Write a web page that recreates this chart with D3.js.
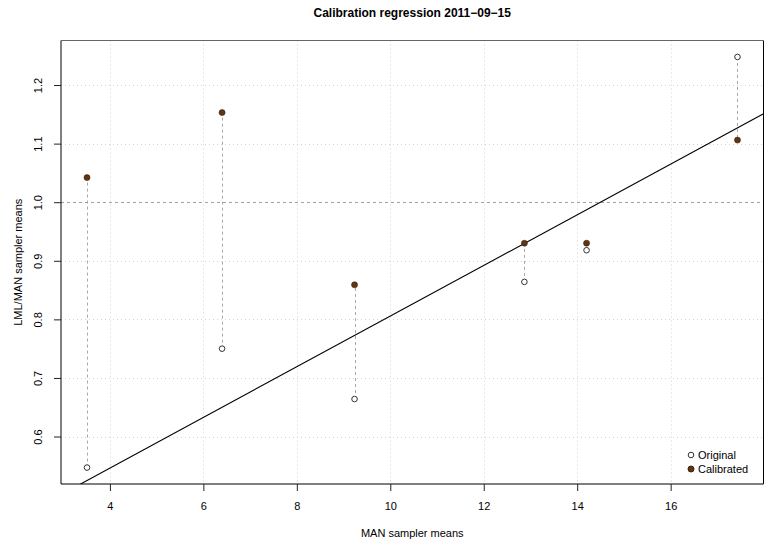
<!DOCTYPE html>
<html>
<head>
<script src="https://d3js.org/d3.v7.min.js"></script>
<style>
  body { margin: 0; background: #fff; }
  svg text { font-family: "Liberation Sans", Arial, sans-serif; fill: #000; }
</style>
</head>
<body>
<script>
// data
let manMeans   = [3.51, 6.40, 9.235, 12.87, 14.2, 17.43];
let original   = [0.547, 0.750, 0.664, 0.864, 0.918, 1.248];
let calibrated = [1.042, 1.153, 0.859, 0.930, 0.930, 1.106];
let xTicks = [4, 6, 8, 10, 12, 14, 16];
let yTicks = [0.6, 0.7, 0.8, 0.9, 1.0, 1.1, 1.2];
let legendLabels = ["Original", "Calibrated"];

let width = 771, height = 548;
let plotLeft = 61, plotRight = 763.5, plotTop = 40.5, plotBottom = 484;
let brown = "#5e3613";

let svg = d3.select("body").append("svg")
    .attr("width", width).attr("height", height);

// R style 4% padding on the data range
function pad(ext) {
    let d = (ext[1] - ext[0]) * 0.04;
    return [ext[0] - d, ext[1] + d];
}
let x = d3.scaleLinear().domain(pad(d3.extent(manMeans))).range([plotLeft, plotRight]);
let y = d3.scaleLinear().domain(pad(d3.extent(original.concat(calibrated)))).range([plotBottom, plotTop]);

// least squares fit of original vs MAN means
let mx = d3.mean(manMeans), my = d3.mean(original);
let sxy = d3.sum(manMeans, (v, i) => (v - mx) * (original[i] - my));
let sxx = d3.sum(manMeans, v => (v - mx) * (v - mx));
let slope = sxy / sxx, intercept = my - slope * mx;

svg.append("clipPath").attr("id", "plotclip")
    .append("rect").attr("x", plotLeft).attr("y", plotTop)
    .attr("width", plotRight - plotLeft).attr("height", plotBottom - plotTop);

// grid
svg.append("g").selectAll("line").data(xTicks).join("line")
    .attr("x1", d => Math.round(x(d)) + 0.5).attr("x2", d => Math.round(x(d)) + 0.5)
    .attr("y1", plotTop).attr("y2", plotBottom)
    .attr("stroke", "#d3d3d3").attr("stroke-dasharray", "1,3");
svg.append("g").selectAll("line").data(yTicks.filter(d => d != 1.0)).join("line")
    .attr("y1", d => Math.round(y(d)) + 0.5).attr("y2", d => Math.round(y(d)) + 0.5)
    .attr("x1", plotLeft).attr("x2", plotRight)
    .attr("stroke", "#d3d3d3").attr("stroke-dasharray", "1,3");

// reference line at 1
svg.append("line")
    .attr("x1", plotLeft).attr("x2", plotRight)
    .attr("y1", Math.round(y(1)) + 0.5).attr("y2", Math.round(y(1)) + 0.5)
    .attr("stroke", "#a0a0a0").attr("stroke-dasharray", "3,3");

// connectors
svg.append("g").selectAll("line").data(manMeans).join("line")
    .attr("x1", d => Math.round(x(d)) + 0.5).attr("x2", d => Math.round(x(d)) + 0.5)
    .attr("y1", (d, i) => y(original[i])).attr("y2", (d, i) => y(calibrated[i]))
    .attr("stroke", "#a8a8a8").attr("stroke-dasharray", "3,3");

// regression line
let xd = x.domain();
svg.append("line")
    .attr("clip-path", "url(#plotclip)")
    .attr("x1", x(xd[0])).attr("y1", y(intercept + slope * xd[0]))
    .attr("x2", x(xd[1])).attr("y2", y(intercept + slope * xd[1]))
    .attr("stroke", "#000").attr("stroke-width", 1.1);

// points
svg.append("g").selectAll("circle").data(manMeans).join("circle")
    .attr("cx", d => x(d)).attr("cy", (d, i) => y(original[i])).attr("r", 2.8)
    .attr("fill", "#fff").attr("stroke", "#333").attr("stroke-width", 1);
svg.append("g").selectAll("circle").data(manMeans).join("circle")
    .attr("cx", d => x(d)).attr("cy", (d, i) => y(calibrated[i])).attr("r", 3)
    .attr("fill", brown).attr("stroke", "#3a200a").attr("stroke-width", 0.6);

// box (top edge looks lighter in the reference)
svg.append("path")
    .attr("d", "M" + plotLeft + "," + plotTop + "V" + plotBottom + "H" + plotRight + "V" + plotTop)
    .attr("fill", "none").attr("stroke", "#000").attr("stroke-width", 1);
svg.append("line")
    .attr("x1", plotLeft).attr("x2", plotRight).attr("y1", plotTop).attr("y2", plotTop)
    .attr("stroke", "#666").attr("stroke-width", 1.2);

// x axis
let xAxis = svg.append("g").attr("transform", "translate(0," + plotBottom + ")")
    .call(d3.axisBottom(x).tickValues(xTicks).tickSize(7).tickPadding(11).tickSizeOuter(0));
xAxis.select(".domain").remove();
xAxis.selectAll("line").attr("stroke", "#222");
xAxis.selectAll("text").style("font-size", "11px")
    .style("font-family", "'Liberation Sans', Arial, sans-serif");

// y axis with rotated labels
let yAxis = svg.append("g").attr("transform", "translate(" + plotLeft + ",0)")
    .call(d3.axisLeft(y).tickValues(yTicks).tickSize(7).tickFormat(d3.format(".1f")).tickSizeOuter(0));
yAxis.select(".domain").remove();
yAxis.selectAll("line").attr("stroke", "#222");
yAxis.selectAll("text")
    .attr("x", null).attr("dy", null)
    .attr("transform", "translate(-22,0) rotate(-90)")
    .attr("text-anchor", "middle").attr("dominant-baseline", "middle")
    .style("font-size", "11px")
    .style("font-family", "'Liberation Sans', Arial, sans-serif");

// titles
svg.append("text").attr("x", (plotLeft + plotRight) / 2).attr("y", 17)
    .attr("text-anchor", "middle").style("font-size", "12px").style("font-weight", "bold")
    .text("Calibration regression 2011\u221209\u221215");
svg.append("text").attr("x", (plotLeft + plotRight) / 2).attr("y", 537)
    .attr("text-anchor", "middle").style("font-size", "11px")
    .text("MAN sampler means");
svg.append("text").attr("transform", "translate(22," + (plotTop + plotBottom) / 2 + ") rotate(-90)")
    .attr("text-anchor", "middle").style("font-size", "11px")
    .text("LML/MAN sampler means");

// legend
let legend = svg.append("g").attr("transform", "translate(691,455)");
legend.selectAll("circle").data(legendLabels).join("circle")
    .attr("cx", 0).attr("cy", (d, i) => i * 14).attr("r", (d, i) => i ? 3 : 2.8)
    .attr("fill", (d, i) => i ? brown : "#fff")
    .attr("stroke", (d, i) => i ? "#3a200a" : "#333");
legend.selectAll("text").data(legendLabels).join("text")
    .attr("x", 7).attr("y", (d, i) => i * 14 + 4)
    .style("font-size", "11px").text(d => d);
</script>
</body>
</html>
